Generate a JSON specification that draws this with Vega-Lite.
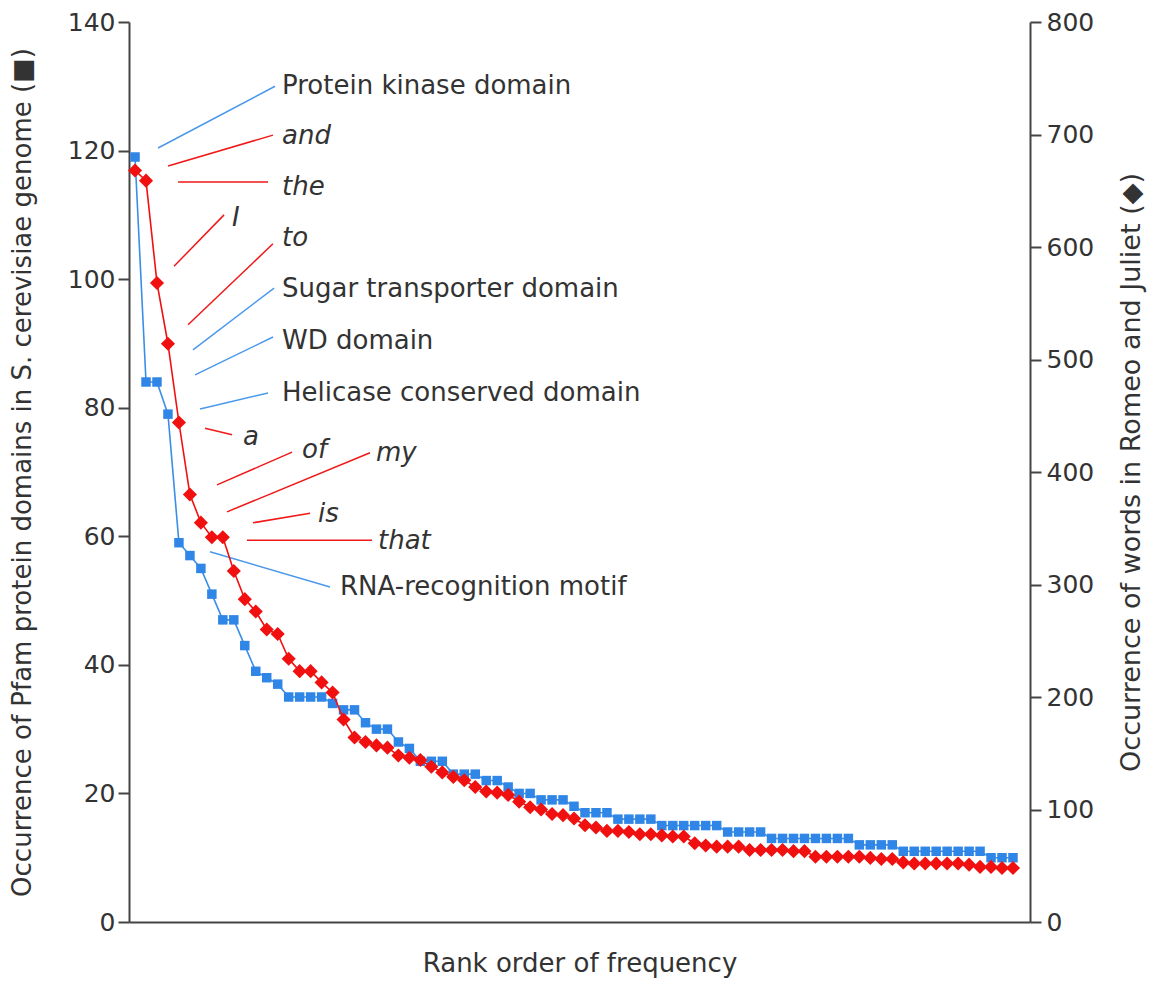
{
  "$schema": "https://vega.github.io/schema/vega-lite/v6.json",
  "width": 901,
  "height": 900,
  "autosize": {"type": "none"},
  "padding": {"left": 129, "top": 22, "right": 125, "bottom": 61},
  "background": "white",
  "config": {
    "view": {"stroke": null},
    "font": "DejaVu Sans",
    "axis": {
      "grid": false,
      "domainColor": "#444444",
      "domainWidth": 2,
      "tickColor": "#444444",
      "tickWidth": 2,
      "tickSize": 11,
      "labelFontSize": 25,
      "labelColor": "#333333",
      "titleFontSize": 26,
      "titleFontWeight": "normal",
      "titleColor": "#333333"
    }
  },
  "datasets": {
    "pfam": [
      {"rank":1,"count":119},{"rank":2,"count":84},{"rank":3,"count":84},{"rank":4,"count":79},{"rank":5,"count":59},
      {"rank":6,"count":57},{"rank":7,"count":55},{"rank":8,"count":51},{"rank":9,"count":47},{"rank":10,"count":47},
      {"rank":11,"count":43},{"rank":12,"count":39},{"rank":13,"count":38},{"rank":14,"count":37},{"rank":15,"count":35},
      {"rank":16,"count":35},{"rank":17,"count":35},{"rank":18,"count":35},{"rank":19,"count":34},{"rank":20,"count":33},
      {"rank":21,"count":33},{"rank":22,"count":31},{"rank":23,"count":30},{"rank":24,"count":30},{"rank":25,"count":28},
      {"rank":26,"count":27},{"rank":27,"count":25},{"rank":28,"count":25},{"rank":29,"count":25},{"rank":30,"count":23},
      {"rank":31,"count":23},{"rank":32,"count":23},{"rank":33,"count":22},{"rank":34,"count":22},{"rank":35,"count":21},
      {"rank":36,"count":20},{"rank":37,"count":20},{"rank":38,"count":19},{"rank":39,"count":19},{"rank":40,"count":19},
      {"rank":41,"count":18},{"rank":42,"count":17},{"rank":43,"count":17},{"rank":44,"count":17},{"rank":45,"count":16},
      {"rank":46,"count":16},{"rank":47,"count":16},{"rank":48,"count":16},{"rank":49,"count":15},{"rank":50,"count":15},
      {"rank":51,"count":15},{"rank":52,"count":15},{"rank":53,"count":15},{"rank":54,"count":15},{"rank":55,"count":14},
      {"rank":56,"count":14},{"rank":57,"count":14},{"rank":58,"count":14},{"rank":59,"count":13},{"rank":60,"count":13},
      {"rank":61,"count":13},{"rank":62,"count":13},{"rank":63,"count":13},{"rank":64,"count":13},{"rank":65,"count":13},
      {"rank":66,"count":13},{"rank":67,"count":12},{"rank":68,"count":12},{"rank":69,"count":12},{"rank":70,"count":12},
      {"rank":71,"count":11},{"rank":72,"count":11},{"rank":73,"count":11},{"rank":74,"count":11},{"rank":75,"count":11},
      {"rank":76,"count":11},{"rank":77,"count":11},{"rank":78,"count":11},{"rank":79,"count":10},{"rank":80,"count":10},
      {"rank":81,"count":10}
    ],
    "words": [
      {"rank":1,"count":668},{"rank":2,"count":659},{"rank":3,"count":568},{"rank":4,"count":514},{"rank":5,"count":444},
      {"rank":6,"count":380},{"rank":7,"count":355},{"rank":8,"count":342},{"rank":9,"count":342},{"rank":10,"count":312},
      {"rank":11,"count":287},{"rank":12,"count":276},{"rank":13,"count":260},{"rank":14,"count":256},{"rank":15,"count":234},
      {"rank":16,"count":223},{"rank":17,"count":223},{"rank":18,"count":213},{"rank":19,"count":204},{"rank":20,"count":180},
      {"rank":21,"count":164},{"rank":22,"count":160},{"rank":23,"count":157},{"rank":24,"count":155},{"rank":25,"count":148},
      {"rank":26,"count":146},{"rank":27,"count":144},{"rank":28,"count":138},{"rank":29,"count":133},{"rank":30,"count":129},
      {"rank":31,"count":126},{"rank":32,"count":120},{"rank":33,"count":116},{"rank":34,"count":115},{"rank":35,"count":113},
      {"rank":36,"count":107},{"rank":37,"count":102},{"rank":38,"count":100},{"rank":39,"count":96},{"rank":40,"count":95},
      {"rank":41,"count":92},{"rank":42,"count":86},{"rank":43,"count":84},{"rank":44,"count":81},{"rank":45,"count":81},
      {"rank":46,"count":80},{"rank":47,"count":78},{"rank":48,"count":78},{"rank":49,"count":77},{"rank":50,"count":76},
      {"rank":51,"count":76},{"rank":52,"count":70},{"rank":53,"count":68},{"rank":54,"count":67},{"rank":55,"count":67},
      {"rank":56,"count":67},{"rank":57,"count":64},{"rank":58,"count":64},{"rank":59,"count":64},{"rank":60,"count":64},
      {"rank":61,"count":63},{"rank":62,"count":63},{"rank":63,"count":58},{"rank":64,"count":58},{"rank":65,"count":58},
      {"rank":66,"count":58},{"rank":67,"count":58},{"rank":68,"count":57},{"rank":69,"count":56},{"rank":70,"count":56},
      {"rank":71,"count":53},{"rank":72,"count":52},{"rank":73,"count":52},{"rank":74,"count":52},{"rank":75,"count":52},
      {"rank":76,"count":52},{"rank":77,"count":51},{"rank":78,"count":49},{"rank":79,"count":49},{"rank":80,"count":48},
      {"rank":81,"count":48}
    ],
    "notes": [
      {"label":"Protein kinase domain","kind":"domain","rank":14.39,"val":130.0,"rank_a":3.10,"val_a":120.4,"rank_b":13.76,"val_b":130.0},
      {"label":"and","kind":"word","rank":14.39,"val":122.3,"rank_a":4.01,"val_a":117.6,"rank_b":13.57,"val_b":122.4},
      {"label":"the","kind":"word","rank":14.39,"val":114.3,"rank_a":4.92,"val_a":115.1,"rank_b":13.12,"val_b":115.1},
      {"label":"I","kind":"word","rank":9.84,"val":109.5,"rank_a":4.55,"val_a":102.0,"rank_b":9.11,"val_b":110.0},
      {"label":"to","kind":"word","rank":14.39,"val":106.4,"rank_a":5.83,"val_a":92.9,"rank_b":13.57,"val_b":105.5},
      {"label":"Sugar transporter domain","kind":"domain","rank":14.39,"val":98.5,"rank_a":6.28,"val_a":89.0,"rank_b":13.67,"val_b":98.6},
      {"label":"WD domain","kind":"domain","rank":14.39,"val":90.4,"rank_a":6.47,"val_a":85.1,"rank_b":13.57,"val_b":91.0},
      {"label":"Helicase conserved domain","kind":"domain","rank":14.39,"val":82.3,"rank_a":6.92,"val_a":79.8,"rank_b":13.12,"val_b":82.3},
      {"label":"a","kind":"word","rank":10.84,"val":75.4,"rank_a":7.38,"val_a":76.8,"rank_b":9.84,"val_b":75.8},
      {"label":"of","kind":"word","rank":16.22,"val":73.4,"rank_a":8.47,"val_a":68.0,"rank_b":15.31,"val_b":73.1},
      {"label":"my","kind":"word","rank":22.96,"val":73.0,"rank_a":9.38,"val_a":63.8,"rank_b":22.41,"val_b":73.0},
      {"label":"is","kind":"word","rank":17.67,"val":63.5,"rank_a":11.75,"val_a":62.1,"rank_b":16.95,"val_b":63.6},
      {"label":"that","kind":"word","rank":23.14,"val":59.3,"rank_a":11.2,"val_a":59.4,"rank_b":22.6,"val_b":59.4},
      {"label":"RNA-recognition motif","kind":"domain","rank":19.68,"val":52.1,"rank_a":7.83,"val_a":57.6,"rank_b":18.77,"val_b":52.1}
    ]
  },
  "layer": [
    {
      "data": {"name": "pfam"},
      "mark": {"type": "line", "color": "#3a8ee8", "strokeWidth": 1.6},
      "encoding": {
        "x": {"field": "rank", "type": "quantitative", "scale": {"domain": [0.45, 82.55], "nice": false, "zero": false},
              "axis": {"title": "Rank order of frequency", "labels": false, "ticks": false, "titlePadding": 28}},
        "y": {"field": "count", "type": "quantitative", "scale": {"domain": [0, 140], "nice": false},
              "axis": {"orient": "left", "title": "Occurrence of Pfam protein domains in S. cerevisiae genome (■)", "values": [0, 20, 40, 60, 80, 100, 120, 140], "labelPadding": 3, "titlePadding": 32}}
      }
    },
    {
      "data": {"name": "pfam"},
      "mark": {"type": "point", "shape": "square", "filled": true, "opacity": 1, "color": "#2f86e6", "size": 90},
      "encoding": {
        "x": {"field": "rank", "type": "quantitative"},
        "y": {"field": "count", "type": "quantitative", "scale": {"domain": [0, 140], "nice": false}, "axis": null}
      }
    },
    {
      "data": {"name": "notes"},
      "mark": {"type": "rule", "strokeWidth": 1.5},
      "encoding": {
        "x": {"field": "rank_a", "type": "quantitative"},
        "x2": {"field": "rank_b"},
        "y": {"field": "val_a", "type": "quantitative", "scale": {"domain": [0, 140], "nice": false}, "axis": null},
        "y2": {"field": "val_b"},
        "color": {"field": "kind", "type": "nominal", "scale": {"domain": ["domain", "word"], "range": ["#4a98ea", "#f01818"]}, "legend": null}
      }
    },
    {
      "data": {"name": "notes"},
      "transform": [{"filter": "datum.kind == 'domain'"}],
      "mark": {"type": "text", "align": "left", "baseline": "middle", "fontSize": 26, "color": "#333333", "font": "DejaVu Sans"},
      "encoding": {
        "x": {"field": "rank", "type": "quantitative"},
        "y": {"field": "val", "type": "quantitative", "scale": {"domain": [0, 140], "nice": false}, "axis": null},
        "text": {"field": "label"}
      }
    },
    {
      "data": {"name": "notes"},
      "transform": [{"filter": "datum.kind == 'word'"}],
      "mark": {"type": "text", "align": "left", "baseline": "middle", "fontSize": 26, "fontStyle": "italic", "color": "#333333", "font": "DejaVu Sans"},
      "encoding": {
        "x": {"field": "rank", "type": "quantitative"},
        "y": {"field": "val", "type": "quantitative", "scale": {"domain": [0, 140], "nice": false}, "axis": null},
        "text": {"field": "label"}
      }
    },
    {
      "data": {"name": "words"},
      "mark": {"type": "line", "color": "#f01010", "strokeWidth": 1.6},
      "encoding": {
        "x": {"field": "rank", "type": "quantitative"},
        "y": {"field": "count", "type": "quantitative", "scale": {"domain": [0, 800], "nice": false},
              "axis": {"orient": "right", "title": "Occurrence of words in Romeo and Juliet (◆)", "values": [0, 100, 200, 300, 400, 500, 600, 700, 800], "labelPadding": 5, "titleAngle": 270, "titleFontSize": 27, "titlePadding": 52}}
      }
    },
    {
      "data": {"name": "words"},
      "mark": {"type": "point", "shape": "diamond", "filled": true, "opacity": 1, "color": "#f01010", "size": 200},
      "encoding": {
        "x": {"field": "rank", "type": "quantitative"},
        "y": {"field": "count", "type": "quantitative", "scale": {"domain": [0, 800], "nice": false}, "axis": null}
      }
    }
  ],
  "resolve": {"scale": {"y": "independent"}}
}
